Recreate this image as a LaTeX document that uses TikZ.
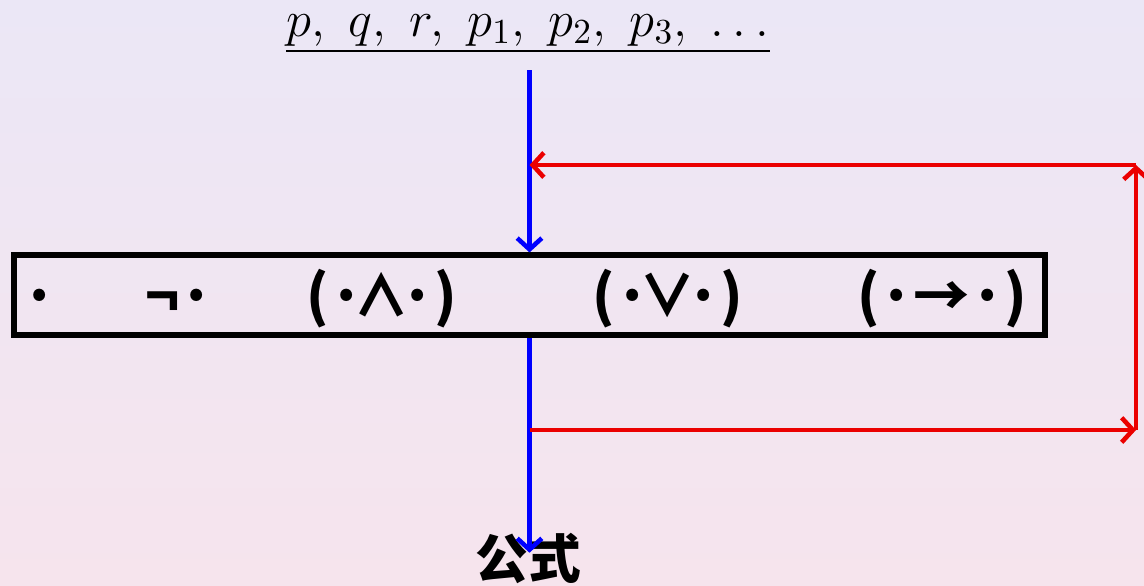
\documentclass[tikz,border=0pt]{standalone}
\usepackage{fontspec}
\usetikzlibrary{arrows.meta}
\newfontfamily\cjkfont{Noto Sans CJK SC}
\newfontfamily\opfont{Noto Sans CJK JP}[RawFeature=+palt]
\newcommand{\tightop}[1]{\kern-0.17em#1\kern-0.17em}
\definecolor{bgtop}{RGB}{235,231,246}
\definecolor{bgbottom}{RGB}{246,228,237}
\definecolor{flowred}{RGB}{235,0,0}

\begin{document}
\begin{tikzpicture}[>={Straight Barb[length=3.2pt,width=7pt]},
  opitem/.style={anchor=base, inner sep=0pt, font=\opfont\bfseries\fontsize{16}{19}\selectfont},
  downflow/.style={->, blue, line width=1.3pt},
  backflow/.style={->, flowred, line width=1.3pt}]
  % Background
  \useasboundingbox (0,0) rectangle (11.44,-5.85);
  \shade[top color=bgtop, bottom color=bgbottom] (0,0) rectangle (11.44,-5.85);
  % Atoms, underlined
  \node[anchor=base, inner sep=0pt, font=\fontsize{14}{17}\selectfont] (atoms) at (5.28,-0.36)
    {$p,\hspace{0.3em} q,\hspace{0.3em} r,\hspace{0.3em} p_1,\hspace{0.3em} p_2,\hspace{0.3em} p_3,\hspace{0.3em} \ldots$};
  \draw[line width=0.6pt] ([yshift=-0.15cm]atoms.base west) -- ([yshift=-0.15cm]atoms.base east);
  % Connective box
  \node[draw, line width=1.6pt, minimum width=10.31cm, minimum height=0.795cm, inner sep=0pt]
    (ops) at (5.295,-2.95) {};
  \node[opitem] (dot)  at (0.40,-3.16) {·};
  \node[opitem] (neg)  at (1.80,-3.16) {¬·};
  \node[opitem] (conj) at (3.82,-3.16) {(·\tightop{∧}·)};
  \node[opitem] (disj) at (6.68,-3.16) {(·\tightop{∨}·)};
  \node[opitem] (impl) at (9.42,-3.16) {(·→·)};
  % Result
  \node[anchor=base, inner sep=0pt, text height=0.7em, font=\cjkfont\bfseries\fontsize{15}{18}\selectfont]
    (formula) at (5.28,-5.78) {公式};
  % Main flow
  \draw[downflow] (ops.north |- 0,-0.70) -- (ops.north);
  \draw[downflow] (ops.south) -- (ops.south |- formula.north);
  % Feedback loop
  \coordinate (out) at (ops.south |- 0,-4.30);
  \coordinate (in)  at (ops.north |- 0,-1.65);
  \coordinate (br)  at (11.36,-4.30);
  \coordinate (tr)  at (11.36,-1.65);
  \draw[backflow] (out) -- (br);
  \draw[backflow] (br) -- (tr);
  \draw[backflow] (tr) -- (in);
\end{tikzpicture}
\end{document}
